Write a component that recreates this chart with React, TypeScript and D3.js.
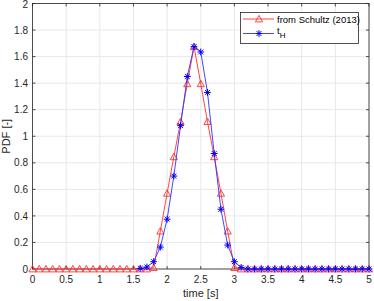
import React, { useEffect, useRef } from "react";
import * as d3 from "d3";

const redTime = [
  0, 0.1, 0.2, 0.3, 0.4, 0.5, 0.6, 0.7, 0.8, 0.9, 1, 1.1, 1.2, 1.3, 1.4, 1.5, 1.6, 1.7,
  1.8, 1.9, 2, 2.1, 2.2, 2.3, 2.4, 2.5, 2.6, 2.7, 2.8, 2.9, 3,
  3.1, 3.2, 3.3, 3.4, 3.5, 3.6, 3.7, 3.8, 3.9, 4, 4.1, 4.2, 4.3, 4.4, 4.5, 4.6, 4.7, 4.8, 4.9, 5,
];
const redPdf = [
  0, 0, 0, 0, 0, 0, 0, 0, 0, 0, 0, 0, 0, 0, 0, 0, 0, 0,
  0.01, 0.285, 0.57, 0.845, 1.11, 1.395, 1.675, 1.395, 1.11, 0.845, 0.57, 0.285, 0.01,
  0, 0, 0, 0, 0, 0, 0, 0, 0, 0, 0, 0, 0, 0, 0, 0, 0, 0, 0, 0,
];
const blueTime = [
  1.6, 1.7, 1.8, 1.9, 2, 2.1, 2.2, 2.3, 2.4, 2.5, 2.6, 2.7, 2.8, 2.9, 3, 3.1,
  3.2, 3.3, 3.4, 3.5, 3.6, 3.7, 3.8, 3.9, 4, 4.1, 4.2, 4.3, 4.4, 4.5, 4.6, 4.7, 4.8, 4.9, 5,
];
const bluePdf = [
  0.004, 0.015, 0.055, 0.165, 0.375, 0.7, 1.08, 1.45, 1.675, 1.635, 1.33, 0.87, 0.45, 0.18, 0.055, 0.012,
  0, 0, 0, 0, 0, 0, 0, 0, 0, 0, 0, 0, 0, 0, 0, 0, 0, 0, 0,
];
const xTicks = [0, 0.5, 1, 1.5, 2, 2.5, 3, 3.5, 4, 4.5, 5];
const yTicks = [0, 0.2, 0.4, 0.6, 0.8, 1, 1.2, 1.4, 1.6, 1.8, 2];

const W = 374;
const H = 301;
const margin = { top: 3.5, right: 5, bottom: 32, left: 32.5 };
const axisColor = "#262626";
const font = "'Liberation Sans', Arial, sans-serif";

function triPath(cx: number, cy: number, s = 3.6) {
  return `M${cx},${cy - s}L${cx + s},${cy + s * 0.8}L${cx - s},${cy + s * 0.8}Z`;
}
function starPath(cx: number, cy: number, s = 3.4) {
  const d = s * 0.72;
  return `M${cx - s},${cy}H${cx + s}M${cx},${cy - s}V${cy + s}M${cx - d},${cy - d}L${cx + d},${cy + d}M${cx - d},${cy + d}L${cx + d},${cy - d}`;
}

function Chart() {
  const ref = useRef<SVGSVGElement>(null);

  useEffect(() => {
    document.body.style.margin = "0";
    const svg = d3.select(ref.current);
    svg.selectAll("*").remove();

    const x = d3.scaleLinear().domain([0, 5]).range([margin.left, W - margin.right]);
    const y = d3.scaleLinear().domain([0, 2]).range([H - margin.bottom, margin.top]);
    const [x0, x1] = x.range();
    const [y0, y1] = y.range();

    // grid
    const grid = svg.append("g").attr("stroke", "#e8e8e8").attr("stroke-width", 1);
    xTicks.forEach((t) => {
      grid.append("line").attr("x1", x(t)).attr("x2", x(t)).attr("y1", y0).attr("y2", y1);
    });
    yTicks.forEach((t) => {
      grid.append("line").attr("x1", x0).attr("x2", x1).attr("y1", y(t)).attr("y2", y(t));
    });

    // box and ticks
    svg
      .append("rect")
      .attr("x", x0)
      .attr("y", y1)
      .attr("width", x1 - x0)
      .attr("height", y0 - y1)
      .attr("fill", "none")
      .attr("stroke", axisColor)
      .attr("stroke-width", 0.8);
    const ticks = svg.append("g").attr("stroke", axisColor).attr("stroke-width", 0.8);
    xTicks.forEach((t) => {
      ticks.append("line").attr("x1", x(t)).attr("x2", x(t)).attr("y1", y0).attr("y2", y0 - 3);
      ticks.append("line").attr("x1", x(t)).attr("x2", x(t)).attr("y1", y1).attr("y2", y1 + 3);
    });
    yTicks.forEach((t) => {
      ticks.append("line").attr("x1", x0).attr("x2", x0 + 3).attr("y1", y(t)).attr("y2", y(t));
      ticks.append("line").attr("x1", x1).attr("x2", x1 - 3).attr("y1", y(t)).attr("y2", y(t));
    });

    const labels = svg.append("g").attr("font-family", font).attr("font-size", 10).attr("fill", axisColor);
    xTicks.forEach((t) => {
      labels.append("text").attr("x", x(t)).attr("y", y0 + 13.5).attr("text-anchor", "middle").text(d3.format("~g")(t));
    });
    yTicks.forEach((t) => {
      labels
        .append("text")
        .attr("x", x0 - 4.5)
        .attr("y", Math.max(y(t) + 3.6, 8))
        .attr("text-anchor", "end")
        .text(d3.format("~g")(t));
    });
    labels
      .append("text")
      .attr("x", (x0 + x1) / 2)
      .attr("y", y0 + 27.5)
      .attr("text-anchor", "middle")
      .attr("font-size", 11)
      .text("time [s]");
    labels
      .append("text")
      .attr("transform", `translate(10,${(y0 + y1) / 2}) rotate(-90)`)
      .attr("text-anchor", "middle")
      .attr("font-size", 11)
      .text("PDF [-]");

    const line = d3
      .line<[number, number]>()
      .x((d) => x(d[0]))
      .y((d) => y(d[1]));

    const red: [number, number][] = redTime.map((t, i) => [t, redPdf[i]]);
    const blue: [number, number][] = blueTime.map((t, i) => [t, bluePdf[i]]);

    svg.append("path").attr("d", line(red)).attr("fill", "none").attr("stroke", "#ff3030").attr("stroke-width", 0.9);
    svg
      .append("g")
      .selectAll("path")
      .data(red)
      .join("path")
      .attr("d", (d) => triPath(x(d[0]), y(d[1])))
      .attr("fill", "none")
      .attr("stroke", "#ff3030")
      .attr("stroke-width", 0.9);

    svg.append("path").attr("d", line(blue)).attr("fill", "none").attr("stroke", "#3030ff").attr("stroke-width", 0.9);
    svg
      .append("g")
      .selectAll("path")
      .data(blue)
      .join("path")
      .attr("d", (d) => starPath(x(d[0]), y(d[1])))
      .attr("fill", "none")
      .attr("stroke", "#0000ff")
      .attr("stroke-width", 1);

    // legend
    const lg = svg.append("g");
    lg.append("rect")
      .attr("x", 240.5)
      .attr("y", 12.5)
      .attr("width", 118)
      .attr("height", 31)
      .attr("fill", "#fff")
      .attr("stroke", axisColor)
      .attr("stroke-width", 0.8);
    lg.append("line").attr("x1", 243).attr("x2", 274).attr("y1", 19).attr("y2", 19).attr("stroke", "#ff3030").attr("stroke-width", 0.9);
    lg.append("path").attr("d", triPath(259, 19)).attr("fill", "none").attr("stroke", "#ff3030").attr("stroke-width", 0.9);
    lg.append("line").attr("x1", 243).attr("x2", 274).attr("y1", 33.5).attr("y2", 33.5).attr("stroke", "#3030ff").attr("stroke-width", 0.9);
    lg.append("path").attr("d", starPath(259, 33.5)).attr("fill", "none").attr("stroke", "#0000ff").attr("stroke-width", 1);
    const lt = lg.append("g").attr("font-family", font).attr("font-size", 9.5).attr("fill", "#000");
    lt.append("text").attr("x", 277).attr("y", 22.5).text("from Schultz (2013)");
    const t2 = lt.append("text").attr("x", 277).attr("y", 34);
    t2.append("tspan").text("t");
    t2.append("tspan").attr("dy", 3.5).attr("font-size", 8).text("H");
  }, []);

  return <svg ref={ref} width={W} height={H} style={{ display: "block", background: "#fff" }} />;
}

export default function App() {
  return <Chart />;
}
